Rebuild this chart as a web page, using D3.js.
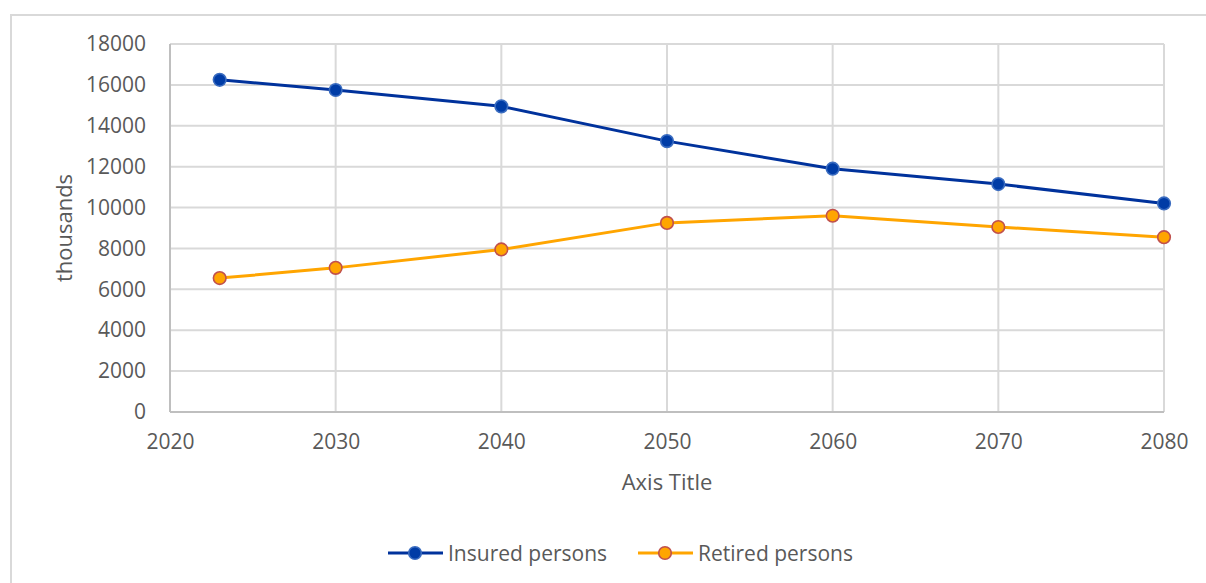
<!DOCTYPE html>
<html>
<head>
<meta charset="utf-8">
<script src="https://cdn.jsdelivr.net/npm/d3@7"></script>
<style>
  html, body { margin: 0; padding: 0; background: #fff; }
  svg { display: block; }
  text { font-family: "Open Sans", "DejaVu Sans", sans-serif; fill: #595959; }
</style>
</head>
<body>
<svg id="chart" width="1206" height="583"></svg>
<script>
// Projection years and series (thousands of persons)
const years = [2023, 2030, 2040, 2050, 2060, 2070, 2080];
const insuredPersons = [16250, 15750, 14950, 13250, 11900, 11150, 10200];
const retiredPersons = [6550, 7050, 7950, 9250, 9600, 9050, 8550];
const xTicks = [2020, 2030, 2040, 2050, 2060, 2070, 2080];
const yTicks = [0, 2000, 4000, 6000, 8000, 10000, 12000, 14000, 16000, 18000];
const seriesNames = ["Insured persons", "Retired persons"];

const series = [
  { name: seriesNames[0], values: insuredPersons, line: "#00329c", fill: "#003ca6", stroke: "#3a6cc0" },
  { name: seriesNames[1], values: retiredPersons, line: "#ffa500", fill: "#ffa500", stroke: "#c0504d" }
];

const svg = d3.select("#chart");

// Outer chart frame
svg.append("rect")
  .attr("x", 11).attr("y", 15)
  .attr("width", 1210).attr("height", 600)
  .attr("fill", "none").attr("stroke", "#d9d9d9").attr("stroke-width", 2);

const plot = { left: 170, right: 1164, top: 44, bottom: 412 };

const x = d3.scaleLinear().domain([2020, 2080]).range([plot.left, plot.right]);
const y = d3.scaleLinear().domain([0, 18000]).range([plot.bottom, plot.top]);

// Horizontal gridlines
svg.append("g").selectAll("line").data(yTicks.filter(d => d > 0)).join("line")
  .attr("x1", plot.left).attr("x2", plot.right)
  .attr("y1", d => y(d)).attr("y2", d => y(d))
  .attr("stroke", "#d9d9d9").attr("stroke-width", 2);

// Vertical gridlines
svg.append("g").selectAll("line").data(xTicks.filter(d => d > 2020)).join("line")
  .attr("x1", d => x(d)).attr("x2", d => x(d))
  .attr("y1", plot.top).attr("y2", plot.bottom)
  .attr("stroke", "#d9d9d9").attr("stroke-width", 2);

// Axis lines
svg.append("line")
  .attr("x1", plot.left).attr("x2", plot.left)
  .attr("y1", plot.top).attr("y2", plot.bottom)
  .attr("stroke", "#bfbfbf").attr("stroke-width", 2);
svg.append("line")
  .attr("x1", plot.left).attr("x2", plot.right)
  .attr("y1", plot.bottom).attr("y2", plot.bottom)
  .attr("stroke", "#bfbfbf").attr("stroke-width", 2);

// Y tick labels
const yAxis = d3.axisLeft(y).tickValues(yTicks).tickSize(0).tickPadding(24).tickFormat(d3.format("d"));
const gy = svg.append("g").attr("transform", `translate(${plot.left},0)`).call(yAxis);
gy.select(".domain").remove();
gy.selectAll("text").style("font-size", "21px").attr("fill", "#595959")
  .style("font-family", "'Open Sans', sans-serif");

// X tick labels
const xAxis = d3.axisBottom(x).tickValues(xTicks).tickSize(0).tickPadding(22).tickFormat(d3.format("d"));
const gx = svg.append("g").attr("transform", `translate(0,${plot.bottom})`).call(xAxis);
gx.select(".domain").remove();
gx.selectAll("text").style("font-size", "21px").attr("fill", "#595959")
  .style("font-family", "'Open Sans', sans-serif");

// Axis titles
svg.append("text")
  .attr("x", (plot.left + plot.right) / 2).attr("y", 490)
  .attr("text-anchor", "middle").style("font-size", "22px")
  .text("Axis Title");
svg.append("text")
  .attr("transform", "translate(72,228) rotate(-90)")
  .attr("text-anchor", "middle").style("font-size", "22px")
  .text("thousands");

// Lines and markers
const lineGen = d3.line().x((d, i) => x(years[i])).y(d => y(d));
series.forEach(s => {
  svg.append("path")
    .datum(s.values)
    .attr("d", lineGen)
    .attr("fill", "none")
    .attr("stroke", s.line)
    .attr("stroke-width", 3)
    .attr("stroke-linejoin", "round");
  svg.append("g").selectAll("circle").data(s.values).join("circle")
    .attr("cx", (d, i) => x(years[i]))
    .attr("cy", d => y(d))
    .attr("r", 6.3)
    .attr("fill", s.fill)
    .attr("stroke", s.stroke)
    .attr("stroke-width", 1.6);
});

// Legend
const legendItems = [
  { s: series[0], x0: 388 },
  { s: series[1], x0: 638 }
];
const ly = 553;
legendItems.forEach(item => {
  const g = svg.append("g");
  g.append("line")
    .attr("x1", item.x0).attr("x2", item.x0 + 55)
    .attr("y1", ly).attr("y2", ly)
    .attr("stroke", item.s.line).attr("stroke-width", 3);
  g.append("circle")
    .attr("cx", item.x0 + 27).attr("cy", ly).attr("r", 6.3)
    .attr("fill", item.s.fill).attr("stroke", item.s.stroke).attr("stroke-width", 1.6);
  g.append("text")
    .attr("x", item.x0 + 60).attr("y", ly)
    .attr("dominant-baseline", "central")
    .style("font-size", "21px")
    .text(item.s.name);
});
</script>
</body>
</html>
